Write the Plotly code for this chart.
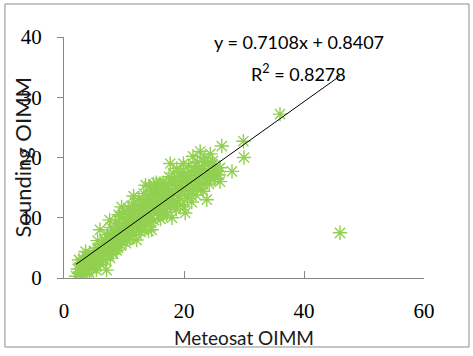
import plotly.graph_objects as go

# Meteosat OIMM (x) and Sounding OIMM (y)
meteosat = [
    2.0, 2.3, 2.6, 2.8, 3.0, 3.2, 3.4, 3.5, 3.7, 3.9,
    4.0, 4.2, 4.3, 4.5, 4.6, 4.8, 5.0, 5.1, 5.3, 5.4,
    5.6, 5.8, 5.9, 6.0, 6.1, 6.3, 6.4, 6.6, 6.8, 6.9,
    7.0, 7.1, 7.2, 7.4, 7.5, 7.7, 7.8, 8.0, 8.1, 8.2,
    8.4, 8.5, 8.6, 8.8, 8.9, 9.0, 9.1, 9.3, 9.3, 9.5,
    9.6, 9.8, 9.9, 10.0, 10.1, 10.3, 10.4, 10.5, 10.7, 10.8,
    11.0, 11.1, 11.3, 11.4, 11.5, 11.7, 11.8, 12.0, 12.1, 12.2,
    12.4, 12.5, 12.7, 12.8, 13.0, 13.1, 13.3, 13.4, 13.5, 13.7,
    13.8, 14.0, 14.1, 14.2, 14.4, 14.5, 14.6, 14.7, 14.9, 15.0,
    15.1, 15.3, 15.4, 15.5, 15.7, 15.8, 16.0, 16.1, 16.2, 16.4,
    16.5, 16.7, 16.8, 17.0, 17.1, 17.2, 17.4, 17.5, 17.7, 17.8,
    18.0, 18.0, 18.2, 18.3, 18.5,
    18.7, 18.8, 19.0, 19.2, 19.4, 19.5, 19.7, 19.9, 20.0, 20.2,
    20.3, 20.5, 20.6, 20.8, 21.0, 21.1, 21.3, 21.5, 21.6, 21.8,
    22.0, 22.2, 22.4, 22.7, 22.8,
    23.0, 23.2, 23.4, 23.6, 23.8, 24.0, 24.2, 24.4, 24.6, 24.8,
    25.0, 25.3, 25.6, 26.0, 26.0, 26.3, 28.0, 29.9, 30.0, 36.0,
    46.0,
    3.0, 4.0, 5.0, 6.0, 7.0, 8.0, 9.0, 10.0, 11.0, 12.0,
    13.0, 14.0, 15.0, 16.0, 17.0, 18.0, 19.0, 20.0, 21.0, 22.0,
    23.0, 24.0, 2.5, 3.6, 5.6, 7.6, 9.6, 11.6, 13.6, 4.4,
    6.5, 8.5, 10.5, 12.5, 14.5, 16.5, 18.5, 20.5, 22.5, 24.5,
    3.3, 4.1, 4.9, 5.7, 6.2, 6.7, 7.3, 7.9, 8.3, 8.7,
    9.2, 9.7, 10.2, 10.6, 11.2, 11.6, 12.3, 12.9, 13.2, 13.9,
    14.3, 14.8, 15.2, 15.6, 16.3, 16.9, 17.3, 17.9, 18.4, 19.1,
    19.6, 20.4, 21.2, 21.9, 22.6, 23.3, 23.9, 24.7, 25.2, 25.8,
    2.7, 3.8, 5.2, 6.6, 8.0, 9.4, 10.9, 12.6, 14.0, 15.9,
    17.6, 19.3, 21.4, 23.1, 24.3, 2.9, 4.7, 6.9, 9.0, 11.9,
]
sounding = [
    0.3, 1.5, 0.8, 2.5, 1.2, 3.0, 0.5, 2.0, 3.6, 1.4,
    2.8, 0.9, 4.0, 2.2, 3.3, 1.6, 4.5, 2.7, 3.8, 1.3,
    5.0, 3.1, 4.2, 8.0, 2.2, 5.6, 3.6, 4.8, 6.3, 2.9,
    5.4, 1.3, 7.2, 4.1, 6.0, 3.3, 8.4, 5.2, 6.9, 4.0,
    7.8, 5.8, 9.2, 4.6, 7.0, 6.2, 10.5, 8.3, 10.2, 5.4,
    7.5, 9.0, 6.6, 11.0, 8.0, 5.8, 9.6, 7.2, 11.6, 8.6,
    6.5, 10.2, 12.0, 8.0, 9.4, 7.1, 12.6, 10.0, 6.3, 8.8,
    11.4, 13.2, 9.4, 7.6, 12.2, 10.6, 14.0, 8.6, 11.6, 9.8,
    13.4, 12.6, 7.8, 15.2, 10.4, 13.8, 8.0, 11.8, 15.6, 9.6,
    12.8, 14.6, 15.8, 10.8, 13.4, 11.6, 15.7, 9.8, 14.2, 12.4,
    15.8, 11.0, 13.8, 15.6, 10.4, 14.8, 12.6, 16.8, 19.0, 11.8,
    10.0, 14.2, 17.4, 12.8, 15.4,
    11.4, 18.2, 13.6, 16.0, 12.2, 17.6, 14.6, 19.0, 11.8, 10.8,
    15.8, 17.0, 13.2, 18.6, 14.4, 16.6, 12.6, 20.2, 15.2, 17.8,
    13.8, 19.2, 16.2, 21.0, 14.8,
    18.0, 14.4, 20.0, 16.8, 13.0, 18.8, 15.6, 20.6, 17.4, 19.4,
    16.4, 18.2, 17.2, 16.0, 18.3, 21.9, 17.7, 22.7, 20.0, 27.2,
    7.5,
    2.4, 3.5, 3.2, 4.4, 4.7, 6.0, 7.2, 8.6, 8.8, 9.2,
    10.2, 11.0, 11.6, 12.2, 13.0, 13.6, 14.8, 15.0, 15.8, 16.6,
    17.0, 17.8, 3.0, 4.4, 6.2, 9.6, 11.8, 13.6, 15.4, 1.8,
    3.8, 5.0, 6.4, 7.8, 9.2, 10.6, 12.0, 13.8, 15.4, 16.6,
    1.9, 2.6, 3.6, 3.9, 5.0, 4.1, 5.9, 7.0, 5.6, 7.4,
    8.1, 7.0, 9.1, 8.2, 10.7, 8.9, 11.0, 11.5, 12.8, 12.2,
    13.0, 14.4, 13.9, 14.4, 13.6, 14.7, 14.0, 15.9, 16.2, 15.6,
    16.9, 16.4, 17.6, 18.6, 17.9, 19.2, 16.2, 18.9, 17.6, 17.1,
    1.0, 0.9, 2.0, 3.2, 4.4, 6.4, 7.6, 8.4, 9.6, 10.4,
    12.0, 13.2, 14.4, 15.6, 16.8, 2.2, 2.6, 4.0, 5.0, 11.2,
]

slope = 0.7108
intercept = 0.8407
r_squared = 0.8278

x_ticks = [0, 20, 40, 60]
y_ticks = [0, 10, 20, 30, 40]

x_line = [min(meteosat), max(meteosat)]
y_line = [slope * v + intercept for v in x_line]

fig = go.Figure()
fig.add_trace(go.Scatter(
    x=meteosat, y=sounding, mode="markers",
    marker=dict(symbol="asterisk-open", size=12, color="#92d050",
                line=dict(color="#92d050", width=1.4)),
    showlegend=False, hoverinfo="x+y",
))
fig.add_trace(go.Scatter(
    x=x_line, y=y_line, mode="lines",
    line=dict(color="black", width=1), showlegend=False,
))

tick_font = dict(family="Liberation Serif", size=21, color="black")
title_font_x = dict(family="Lato", size=19, color="#1a1a1a")
title_font_y = dict(family="Lato", size=22, color="#1a1a1a")
eq_font = dict(family="Lato", size=18, color="black")

fig.update_layout(
    width=473, height=356,
    margin=dict(l=64, r=49, t=37, b=78),
    paper_bgcolor="white", plot_bgcolor="white",
    xaxis=dict(range=[0, 60], tickvals=x_ticks, showgrid=False, zeroline=False,
               showline=True, linecolor="#868686", linewidth=1,
               ticks="inside", ticklen=7, tickcolor="#868686",
               tickfont=tick_font, ticklabelstandoff=14),
    yaxis=dict(range=[0, 40], tickvals=y_ticks, showgrid=False, zeroline=False,
               showline=True, linecolor="#868686", linewidth=1,
               ticks="outside", ticklen=6, tickcolor="#868686",
               tickfont=tick_font, ticklabelstandoff=11),
    shapes=[dict(type="rect", xref="paper", yref="paper",
                 x0=-0.164, x1=1.125, y0=-0.2863, y1=1.137,
                 line=dict(color="#8c8c8c", width=1))],
    annotations=[
        dict(text="Meteosat OIMM", xref="paper", yref="paper", x=0.5, y=-0.245,
             showarrow=False, font=title_font_x, xanchor="center", yanchor="middle"),
        dict(text="Sounding OIMM", xref="paper", yref="paper", x=-0.114, y=0.5,
             showarrow=False, font=title_font_y, textangle=-90,
             xanchor="center", yanchor="middle"),
        dict(text=f"y = {slope}x + {intercept}", xref="paper", yref="paper",
             x=0.653, y=0.979, showarrow=False, font=eq_font,
             xanchor="center", yanchor="middle"),
        dict(text=f"R<sup>2</sup> = {r_squared}", xref="paper", yref="paper",
             x=0.65, y=0.85, showarrow=False, font=eq_font,
             xanchor="center", yanchor="middle"),
    ],
)

fig.write_html("out.html")
